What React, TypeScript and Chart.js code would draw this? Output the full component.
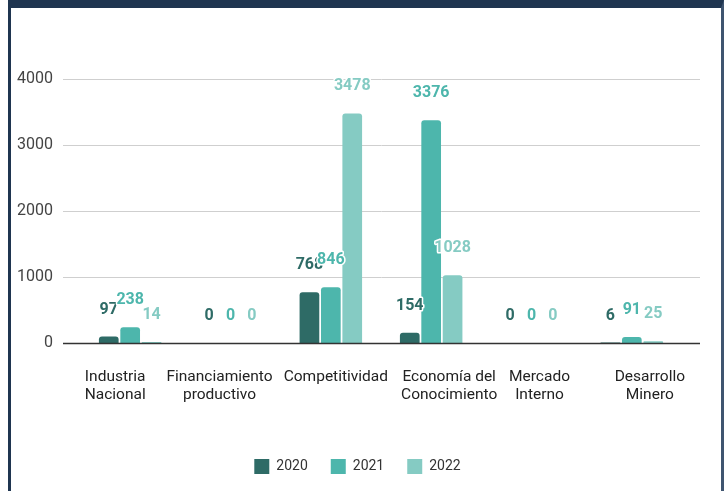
import React, { useEffect, useRef } from "react";
import { Chart, registerables } from "chart.js";

Chart.register(...registerables);

const categories: string[][] = [
  ["Industria", "Nacional"],
  ["Financiamiento", "productivo"],
  ["Competitividad"],
  ["Economía del", "Conocimiento"],
  ["Mercado", "Interno"],
  ["Desarrollo", "Minero"],
];
const seriesNames = ["2020", "2021", "2022"];
const values2020 = [97, 0, 768, 154, 0, 6];
const values2021 = [238, 0, 846, 3376, 0, 91];
const values2022 = [14, 0, 3478, 1028, 0, 25];
const seriesColors = ["#2e6b66", "#4db6ac", "#85cbc3"];
const yMin = 0;
const yMax = 4000;
const yStep = 1000;

const FONT = "Roboto";
// horizontal nudges of the category labels (the source staggers them to avoid overlap)
const labelNudge = [-15, -11, 5, 18, 8, 18];

const extrasPlugin = {
  id: "extras",
  beforeDatasetsDraw(chart: any) {
    const { ctx, chartArea, scales } = chart;
    const ys = scales.y;
    ctx.save();
    ys.ticks.forEach((t: any) => {
      if (t.value === 0) return;
      const py = Math.round(ys.getPixelForValue(t.value)) + 0.5;
      ctx.strokeStyle = "#cfcfcf";
      ctx.lineWidth = 1;
      ctx.beginPath();
      ctx.moveTo(chartArea.left - 17, py);
      ctx.lineTo(chartArea.right + 18, py);
      ctx.stroke();
    });
    ctx.restore();
  },
  afterDatasetsDraw(chart: any) {
    const { ctx, chartArea, scales } = chart;
    const ys = scales.y;
    const xs = scales.x;
    ctx.save();
    const zy = Math.round(ys.getPixelForValue(0)) + 0.5;
    ctx.strokeStyle = "#333333";
    ctx.lineWidth = 1.5;
    ctx.beginPath();
    ctx.moveTo(chartArea.left - 17, zy);
    ctx.lineTo(chartArea.right + 18, zy);
    ctx.stroke();

    // category labels
    ctx.font = `15.5px ${FONT}`;
    ctx.textAlign = "center";
    ctx.textBaseline = "middle";
    ctx.fillStyle = "#222222";
    (chart.data.labels as string[][]).forEach((lines, i) => {
      const cx = xs.getPixelForValue(i) + labelNudge[i];
      lines.forEach((line, li) => {
        ctx.fillText(line, cx, chartArea.bottom + 34 + li * 18);
      });
    });

    // value labels
    ctx.font = `bold 16px ${FONT}`;
    ctx.lineJoin = "round";
    chart.data.datasets.forEach((ds: any, di: number) => {
      const meta = chart.getDatasetMeta(di);
      meta.data.forEach((bar: any, i: number) => {
        const v = ds.data[i];
        const { x, y } = bar.getProps(["x", "y"], true);
        const ty = y - 27;
        ctx.lineWidth = 3;
        ctx.strokeStyle = "#ffffff";
        ctx.strokeText(String(v), x, ty);
        ctx.fillStyle = ds.backgroundColor;
        ctx.fillText(String(v), x, ty);
      });
    });
    ctx.restore();
  },
};

export default function App() {
  const canvasRef = useRef<HTMLCanvasElement | null>(null);

  useEffect(() => {
    if (!canvasRef.current) return;
    const series = [values2020, values2021, values2022];
    const chart = new Chart(canvasRef.current, {
      type: "bar",
      data: {
        labels: categories,
        datasets: series.map((vals, i) => ({
          label: seriesNames[i],
          data: vals,
          backgroundColor: seriesColors[i],
          borderRadius: 3,
          borderSkipped: "bottom",
          categoryPercentage: 0.64,
          barPercentage: 0.92,
        })),
      },
      options: {
        animation: false,
        responsive: false,
        devicePixelRatio: 1,
        layout: { padding: { left: 16, right: 25, top: 79, bottom: 7 } },
        plugins: {
          tooltip: { enabled: false },
          legend: {
            position: "bottom",
            labels: {
              boxWidth: 15,
              boxHeight: 15,
              padding: 23,
              color: "#333333",
              font: { family: FONT, size: 14 },
            },
          },
        },
        scales: {
          x: {
            grid: { display: false, drawTicks: false },
            border: { display: false },
            ticks: { display: false },
            afterFit(scale: any) {
              scale.height = 93;
            },
          },
          y: {
            min: yMin,
            max: yMax,
            grid: { display: false, drawTicks: false },
            border: { display: false },
            ticks: {
              stepSize: yStep,
              color: "#444444",
              padding: 27,
              font: { family: FONT, size: 16 },
              callback: (v: any) => String(v),
            },
            afterFit(scale: any) {
              scale.width = 64;
            },
          },
          yRight: {
            position: "right",
            display: true,
            grid: { display: false, drawTicks: false },
            border: { display: false },
            ticks: { display: false },
            afterFit(scale: any) {
              scale.width = 17;
            },
          },
        },
      },
      plugins: [extrasPlugin],
    });
    return () => chart.destroy();
  }, []);

  return (
    <div
      style={{
        position: "fixed",
        left: 0,
        top: 0,
        width: 724,
        height: 491,
        background: "#ffffff",
        overflow: "hidden",
      }}
    >
      <canvas
        ref={canvasRef}
        width={724}
        height={491}
        style={{ position: "absolute", left: 0, top: 0, width: 724, height: 491 }}
      />
      <div
        style={{
          position: "absolute",
          left: 8,
          top: 0,
          width: 710,
          height: 491,
          borderTop: "8px solid #1f3550",
          borderLeft: "3px solid #1f3550",
          borderRight: "3px solid #3f5570",
          boxSizing: "content-box",
          pointerEvents: "none",
        }}
      />
    </div>
  );
}
